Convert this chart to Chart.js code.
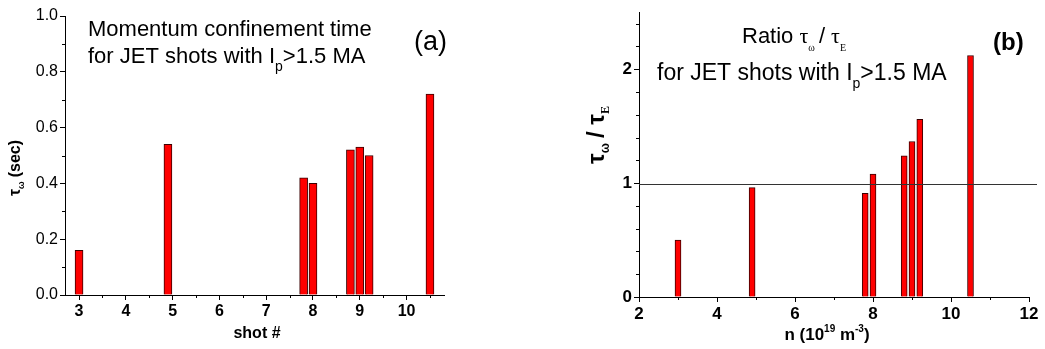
<!DOCTYPE html>
<html>
<head>
<meta charset="utf-8">
<script src="https://cdn.jsdelivr.net/npm/chart.js@4.4.1/dist/chart.umd.min.js"></script>
<style>
    html, body { margin: 0; padding: 0; background: #fff; }
    #wrap { position: relative; width: 1045px; height: 349px; overflow: hidden; }
    .pane { position: absolute; top: 0; height: 349px; }
    #paneA { left: 0; width: 520px; }
    #paneB { left: 520px; width: 525px; }
</style>
</head>
<body>
<div id="wrap">
    <div class="pane" id="paneA"><canvas id="chartA" width="520" height="349"></canvas></div>
    <div class="pane" id="paneB"><canvas id="chartB" width="525" height="349"></canvas></div>
</div>
<script>
'use strict';

// ---- data ----
const shotPos   = [3.0, 4.9, 7.8, 8.0, 8.8, 9.0, 9.2, 10.5];
const tauOmega  = [0.16, 0.54, 0.42, 0.40, 0.52, 0.53, 0.50, 0.72];

const densityN  = [3.0, 4.9, 7.8, 8.0, 8.8, 9.0, 9.2, 10.5];
const tauRatio  = [0.50, 0.96, 0.91, 1.08, 1.24, 1.365, 1.56, 2.12];
const ratioRef  = 0.99;

const xTicksA = [3, 4, 5, 6, 7, 8, 9, 10];
const yTicksA = ['0.0', '0.2', '0.4', '0.6', '0.8', '1.0'];
const xTicksB = [2, 4, 6, 8, 10, 12];
const yTicksB = [0, 1, 2];

const FONT = '"Liberation Sans", Arial, sans-serif';
const SERIF = '"Liberation Serif", "DejaVu Serif", serif';

const COLORS = {
    bar: '#ff0000',
    barEdge: '#3a0000',
    axis: '#000000',
    text: '#000000',
};

// draw a run of text pieces: {t, font, dy}
function drawRun(ctx, x, y, parts, align) {
    let total = 0;
    parts.forEach(p => { ctx.font = p.font; total += ctx.measureText(p.t).width + (p.gap || 0); });
    let cx = align === 'center' ? x - total / 2 : x;
    ctx.textAlign = 'left';
    ctx.textBaseline = 'alphabetic';
    parts.forEach(p => {
        ctx.font = p.font;
        ctx.fillText(p.t, cx, y + (p.dy || 0));
        cx += ctx.measureText(p.t).width + (p.gap || 0);
    });
}

// minor ticks drawn through the scales
function minorTicks(ctx, chart, xMinor, yMinor) {
    const xs = chart.scales.x, ys = chart.scales.y;
    ctx.save();
    ctx.strokeStyle = COLORS.axis;
    ctx.lineWidth = 1;
    ctx.beginPath();
    xMinor.forEach(v => {
        const px = Math.round(xs.getPixelForValue(v)) + 0.5;
        ctx.moveTo(px, ys.bottom);
        ctx.lineTo(px, ys.bottom + 3);
    });
    yMinor.forEach(v => {
        const py = Math.round(ys.getPixelForValue(v)) + 0.5;
        ctx.moveTo(xs.left - 3, py);
        ctx.lineTo(xs.left, py);
    });
    ctx.stroke();
    ctx.restore();
}

function axisOpts(min, max, step, fmt, font, fixedSize, isX) {
    return {
        type: 'linear',
        min, max,
        offset: false,
        afterFit: s => { if (isX) s.height = fixedSize; else s.width = fixedSize; },
        grid: {
            display: true,
            offset: false,
            drawOnChartArea: false,
            drawTicks: true,
            tickLength: 5,
            color: COLORS.axis,
        },
        border: { display: true, color: COLORS.axis, width: 1 },
        ticks: {
            stepSize: step,
            includeBounds: false,
            autoSkip: false,
            maxRotation: 0,
            color: COLORS.text,
            font: font,
            padding: 2,
            callback: fmt,
        },
    };
}

function barSet(xs, ys, thick) {
    return {
        data: xs.map((x, i) => ({ x, y: ys[i] })),
        backgroundColor: COLORS.bar,
        borderColor: COLORS.barEdge,
        borderWidth: 1,
        borderSkipped: 'bottom',
        barThickness: thick,
    };
}

// ---------------- (a) ----------------
const minorXA = [3.5, 4.5, 5.5, 6.5, 7.5, 8.5, 9.5, 10.5];
const minorYA = [0.1, 0.3, 0.5, 0.7, 0.9];

const labelsA = {
    id: 'labelsA',
    afterDraw(chart) {
        const ctx = chart.ctx;
        minorTicks(ctx, chart, minorXA, minorYA);
        ctx.save();
        ctx.fillStyle = COLORS.text;
        drawRun(ctx, 88, 36, [{ t: 'Momentum confinement time', font: `22px ${FONT}` }], 'left');
        drawRun(ctx, 88, 63, [
            { t: 'for JET shots with I', font: `22px ${FONT}` },
            { t: 'p', font: `14px ${FONT}`, dy: 8 },
            { t: '>1.5 MA', font: `22px ${FONT}` },
        ], 'left');
        drawRun(ctx, 414, 50, [{ t: '(a)', font: `27px ${FONT}` }], 'left');
        drawRun(ctx, 257, 338, [{ t: 'shot #', font: `bold 16px ${FONT}` }], 'center');
        // y title, rotated
        ctx.translate(20, 168);
        ctx.rotate(-Math.PI / 2);
        drawRun(ctx, 0, 0, [
            { t: 'τ', font: `bold 16px ${FONT}` },
            { t: 'ω', font: `bold 9px ${FONT}`, dy: 4, gap: 4 },
            { t: '(sec)', font: `bold 16px ${FONT}` },
        ], 'center');
        ctx.restore();
    }
};

new Chart(document.getElementById('chartA'), {
    type: 'bar',
    data: { datasets: [barSet(shotPos, tauOmega, 8)] },
    options: {
        responsive: false,
        animation: false,
        layout: { padding: { left: 0, top: 16, right: 76, bottom: 0 } },
        plugins: { legend: { display: false }, tooltip: { enabled: false } },
        scales: {
            x: axisOpts(2.7, 10.8, 1, v => (xTicksA.includes(v) ? String(v) : ''),
                { family: FONT, size: 16, weight: 'bold' }, 54, true),
            y: axisOpts(0, 1, 0.2, v => yTicksA[Math.round(v * 5)],
                { family: FONT, size: 16 }, 65, false),
        },
    },
    plugins: [labelsA],
});

// ---------------- (b) ----------------
const minorXB = [3, 5, 7, 9, 11];
const minorYB = [0.2, 0.4, 0.6, 0.8, 1.2, 1.4, 1.6, 1.8, 2.2, 2.4];

const labelsB = {
    id: 'labelsB',
    afterDraw(chart) {
        const ctx = chart.ctx;
        const xs = chart.scales.x, ys = chart.scales.y;
        minorTicks(ctx, chart, minorXB, minorYB);
        ctx.save();
        // reference line at ratio ~ 1
        const py = Math.round(ys.getPixelForValue(ratioRef)) + 0.5;
        ctx.strokeStyle = '#333';
        ctx.lineWidth = 1;
        ctx.beginPath();
        ctx.moveTo(xs.left, py);
        ctx.lineTo(xs.right + 8, py);
        ctx.stroke();

        ctx.fillStyle = COLORS.text;
        drawRun(ctx, 742 - 520, 43, [
            { t: 'Ratio ', font: `22px ${FONT}` },
            { t: 'τ', font: `22px ${SERIF}` },
            { t: 'ω', font: `10px ${SERIF}`, dy: 8, gap: 4 },
            { t: '/ ', font: `22px ${FONT}` },
            { t: 'τ', font: `22px ${SERIF}` },
            { t: 'E', font: `10px ${SERIF}`, dy: 8 },
        ], 'left');
        drawRun(ctx, 657 - 520, 80, [
            { t: 'for JET shots with I', font: `23px ${FONT}` },
            { t: 'p', font: `14px ${FONT}`, dy: 8 },
            { t: '>1.5 MA', font: `23px ${FONT}` },
        ], 'left');
        drawRun(ctx, 993 - 520, 50, [{ t: '(b)', font: `bold 24px ${FONT}` }], 'left');
        drawRun(ctx, 827 - 520, 340, [
            { t: 'n (10', font: `bold 17px ${FONT}` },
            { t: '19', font: `bold 10px ${FONT}`, dy: -8 },
            { t: ' m', font: `bold 17px ${FONT}` },
            { t: '-3', font: `bold 10px ${FONT}`, dy: -8 },
            { t: ')', font: `bold 17px ${FONT}` },
        ], 'center');
        ctx.translate(604 - 520, 135);
        ctx.rotate(-Math.PI / 2);
        drawRun(ctx, 0, 0, [
            { t: 'τ', font: `bold 24px ${FONT}` },
            { t: 'ω', font: `bold 12px ${FONT}`, dy: 5, gap: 5 },
            { t: '/ ', font: `bold 24px ${FONT}` },
            { t: 'τ', font: `bold 24px ${FONT}` },
            { t: 'E', font: `bold 12px ${SERIF}`, dy: 5 },
        ], 'center');
        ctx.restore();
    }
};

new Chart(document.getElementById('chartB'), {
    type: 'bar',
    data: { datasets: [barSet(densityN, tauRatio, 6)] },
    options: {
        responsive: false,
        animation: false,
        layout: { padding: { left: 0, top: 8, right: 16, bottom: 0 } },
        plugins: { legend: { display: false }, tooltip: { enabled: false } },
        scales: {
            x: axisOpts(2, 12, 2, v => (xTicksB.includes(v) ? String(v) : ''),
                { family: FONT, size: 17, weight: 'bold' }, 52, true),
            y: axisOpts(0, 2.5, 1, v => (yTicksB.includes(v) ? String(v) : ''),
                { family: FONT, size: 17, weight: 'bold' }, 119, false),
        },
    },
    plugins: [labelsB],
});
</script>
</body>
</html>
